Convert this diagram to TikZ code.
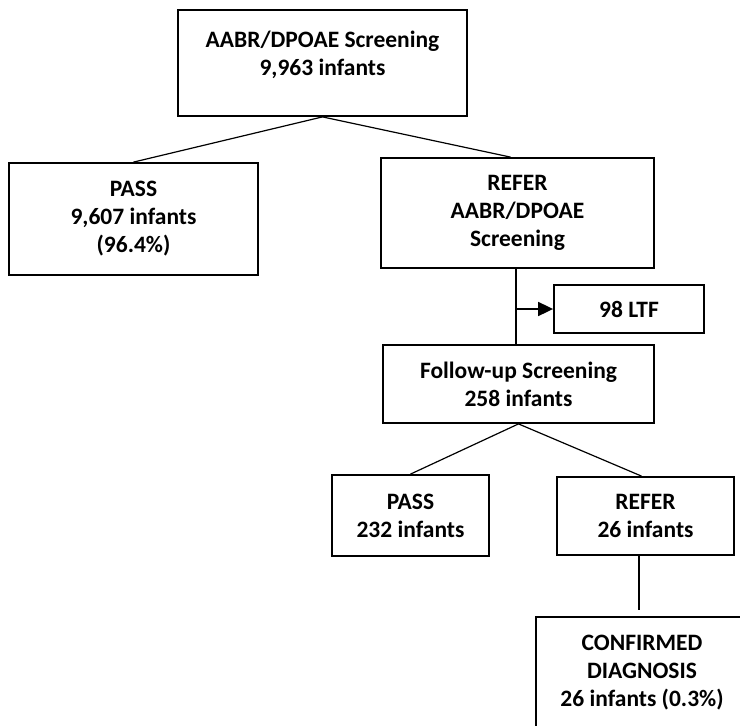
\documentclass[tikz,border=0pt]{standalone}
\usepackage{fontspec}
\setmainfont{Carlito}
\usetikzlibrary{arrows.meta,calc}
\begin{document}
\begin{tikzpicture}[x=1pt,y=-1pt,
  box/.style={draw, line width=1.8pt, inner sep=0pt, align=center,
    font=\bfseries\fontsize{23.5}{28}\selectfont},
  txt/.style={inner sep=0pt, align=center, font=\bfseries\fontsize{23.5}{28}\selectfont},
  conn/.style={line width=1.2pt},
  arr/.style={line width=1.8pt, -{Triangle[length=15pt,width=14pt]}}]
\fill[white] (0,0) rectangle (740,726);
\useasboundingbox (0,0) rectangle (740,726);
\clip (0,0) rectangle (740,726);

\node[box, minimum width=289pt, minimum height=106pt] (top) at (322.5,63) {};
\node[txt, anchor=base] (toptext) at (322.5,75) {AABR/DPOAE Screening\\9,963 infants};

\node[box, minimum width=249pt, minimum height=112pt] (pass1) at (133.5,219) {PASS\\9,607 infants\\(96.4\%)};
\node[box, minimum width=273pt, minimum height=110pt] (refer1) at (517.5,213) {REFER\\AABR/DPOAE\\Screening};
\node[box, minimum width=150pt, minimum height=48pt] (ltf) at (629,309) {98 LTF};
\node[box, minimum width=271pt, minimum height=78pt] (follow) at (518.5,384) {Follow-up Screening\\258 infants};
\node[box, minimum width=157pt, minimum height=81pt] (pass2) at (410.5,515.5) {PASS\\232 infants};
\node[box, minimum width=177pt, minimum height=78pt] (refer2) at (645.5,516) {REFER\\26 infants};
\node[box, minimum width=212pt, minimum height=112pt] (conf) at (642,673) {CONFIRMED\\DIAGNOSIS\\26 infants (0.3\%)};

\draw[conn] (top.south) -- (pass1.north);
\draw[conn] (top.south) -- ($(refer1.north)+(-7,0)$);
\coordinate (vx) at ($(refer1.south)+(-1.5,0)$);
\draw[conn] (vx) -- (vx |- follow.north);
\draw[arr] (vx |- ltf.west) -- (ltf.west);
\draw[conn] (follow.south) -- (pass2.north);
\draw[conn] (follow.south) -- ($(refer2.north)+(-4,0)$);
\coordinate (vy) at ($(refer2.south)+(-6.5,0)$);
\coordinate (vyend) at ($(vy |- conf.north)+(0,-6)$);
\draw[conn] (vy) -- (vyend);
\end{tikzpicture}
\end{document}
